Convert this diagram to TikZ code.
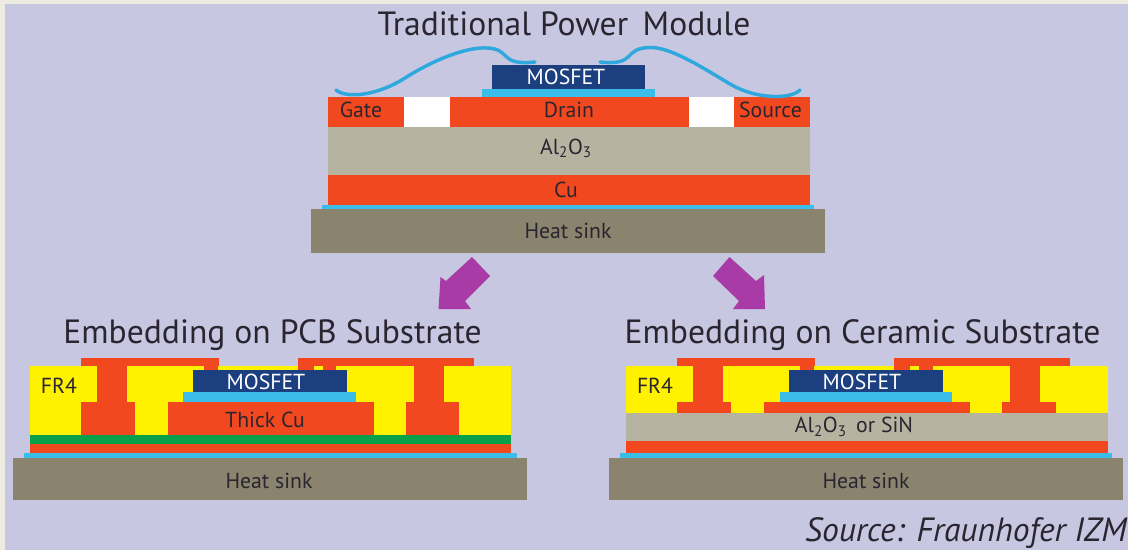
\documentclass[tikz,border=0pt]{standalone}
\usepackage{fontspec}
\setmainfont{PT Sans}
\usepackage{tikz}
\definecolor{bgcol}{HTML}{C8C7E1}
\definecolor{edgecol}{HTML}{EEECE1}
\definecolor{cucol}{HTML}{F2481F}
\definecolor{frcol}{HTML}{FFF200}
\definecolor{greencol}{HTML}{0BA14B}
\definecolor{soldercol}{HTML}{3BBDE9}
\definecolor{wirecol}{HTML}{2FA9DD}
\definecolor{fetcol}{HTML}{1C3F80}
\definecolor{sinkcol}{HTML}{8A836D}
\definecolor{ceramcol}{HTML}{B6B4A1}
\definecolor{arrowcol}{HTML}{A83BA6}
\definecolor{textcol}{HTML}{2A2530}

\begin{document}
\begin{tikzpicture}[
  x=0.75pt, y=-0.75pt,
  every node/.style={inner sep=0pt, text=textcol, align=center},
  cu/.style={fill=cucol},
  fr/.style={fill=frcol},
  solder/.style={fill=soldercol},
  fet/.style={fill=fetcol},
  sink/.style={fill=sinkcol},
  ceram/.style={fill=ceramcol},
  wire/.style={draw=wirecol, line width=2.6pt, line cap=round},
  bigarrow/.style={fill=arrowcol},
  heading/.style={font=\fontsize{25.2}{29}\selectfont},
  tag/.style={font=\fontsize{16.3}{19}\selectfont},
  fettag/.style={tag, text=white}
]
\useasboundingbox (0,0) rectangle (1128,550);
\fill[edgecol] (0,0) rectangle (1128,550);
\fill[bgcol] (5,4) rectangle (1128,550);

% traditional module
\fill[cu] (328,97) rectangle (404,127);
\fill[white] (404,97) rectangle (450,127);
\fill[cu] (450,97) rectangle (689,127);
\fill[white] (689,97) rectangle (734,127);
\fill[cu] (734,97) rectangle (810,127);
\fill[ceram] (328,127) rectangle (810,175);
\fill[cu] (328,175) rectangle (810,204.5);
\fill[solder] (322,204.5) rectangle (814,209);
\fill[sink] (311,209) rectangle (825,252.5);
\fill[solder] (482,88.5) rectangle (655,97);
\fill[fet] (491.5,65) rectangle (645,88.5);
\draw[wire] (336,90) .. controls (345,98) and (375,97) .. (405,78)
  .. controls (440,56) and (470,47) .. (487,48)
  .. controls (512,49) and (498,66) .. (535,62);
\draw[wire] (600,62) .. controls (638,66) and (622,48) .. (650,47.5)
  .. controls (670,47) and (700,66) .. (730,84)
  .. controls (755,99) and (790,100) .. (800,90);

\node[heading] (title) at (564,24) {Traditional Power\, Module};
\node[fettag] (fetA) at (566,76.5) {MOSFET};
\node[tag] (gate) at (361,109.5) {Gate};
\node[tag] (drain) at (569,109.5) {Drain};
\node[tag] (source) at (770.5,109.5) {Source};
\node[tag] (alo) at (566,148.5) {Al\textsubscript{2}O\textsubscript{3}};
\node[tag] (cuA) at (566,189.5) {Cu};
\node[tag] (sinkA) at (568,231) {Heat sink};

% arrows
\fill[bigarrow] (472,257) -- (490,276) -- (465,301) -- (471,309) -- (438.5,309) -- (440.5,277) -- (446,281) -- cycle;
\fill[bigarrow] (729.5,257) -- (713,276) -- (739,301) -- (733,309) -- (765,309) -- (764,275) -- (756,281) -- cycle;

% pcb version
\fill[fr] (30,365.7) rectangle (510.7,435);
\fill[cu] (81,358.3) rectangle (219.3,365.7);
\fill[cu] (96.7,365.7) rectangle (126.7,401.7);
\fill[cu] (81,401.7) rectangle (135.3,435);
\fill[cu] (204,365.7) rectangle (218.3,370);
\fill[cu] (168,402) rectangle (373.7,435);
\fill[cu] (298.3,358.3) rectangle (474,365.7);
\fill[cu] (298.3,365.7) rectangle (314,370);
\fill[cu] (323.3,365.7) rectangle (336,370);
\fill[cu] (414,365.7) rectangle (443.7,402);
\fill[cu] (406,402) rectangle (459,435);
\fill[solder] (183.3,392) rectangle (356,402);
\fill[fet] (193.3,370) rectangle (346.7,392);
\fill[greencol] (30,435) rectangle (510.7,444);
\fill[cu] (30,444) rectangle (510.7,452.5);
\fill[solder] (24,452.5) rectangle (517.3,457.5);
\fill[sink] (13.3,457.5) rectangle (527.3,499.5);

\node[heading] (titleB) at (272.5,335) {Embedding on PCB Substrate};
\node[tag] (frB) at (59,386) {FR4};
\node[fettag] (fetB) at (266,382) {MOSFET};
\node[tag] (thick) at (265,420) {Thick Cu};
\node[tag] (sinkB) at (269,481) {Heat sink};

% ceramic version
\fill[fr] (625.7,365.7) rectangle (1107.7,413.3);
\fill[cu] (677.3,358.3) rectangle (815.3,365.7);
\fill[cu] (693,365.7) rectangle (722.7,401.7);
\fill[cu] (677.3,401.7) rectangle (731.3,413.3);
\fill[cu] (800.3,365.7) rectangle (813.7,370);
\fill[cu] (764,401.7) rectangle (969.7,413.3);
\fill[cu] (894.3,358.3) rectangle (1070,365.7);
\fill[cu] (894.3,365.7) rectangle (910,370);
\fill[cu] (919.3,365.7) rectangle (932.7,370);
\fill[cu] (1009.7,365.7) rectangle (1040,401.7);
\fill[cu] (1002.3,401.7) rectangle (1055.7,413.3);
\fill[solder] (780,392) rectangle (952.3,401.7);
\fill[fet] (789.3,370) rectangle (942.7,392);
\fill[ceram] (625.7,413.3) rectangle (1107.7,441);
\fill[cu] (625.7,441) rectangle (1107.7,453);
\fill[solder] (620,453) rectangle (1112.3,457.5);
\fill[sink] (609.3,457.5) rectangle (1123.3,499.5);

\node[heading] (titleC) at (862.5,335) {Embedding on Ceramic Substrate};
\node[tag] (frC) at (655,386) {FR4};
\node[fettag] (fetC) at (862,382) {MOSFET};
\node[tag] (aloC) at (854,427) {Al\textsubscript{2}O\textsubscript{3}\, or SiN};
\node[tag] (sinkC) at (866,481) {Heat sink};

\node[heading, font=\fontsize{25.2}{29}\selectfont\itshape, anchor=base east] (src) at (1127,541) {Source: Fraunhofer IZM};
\end{tikzpicture}
\end{document}
